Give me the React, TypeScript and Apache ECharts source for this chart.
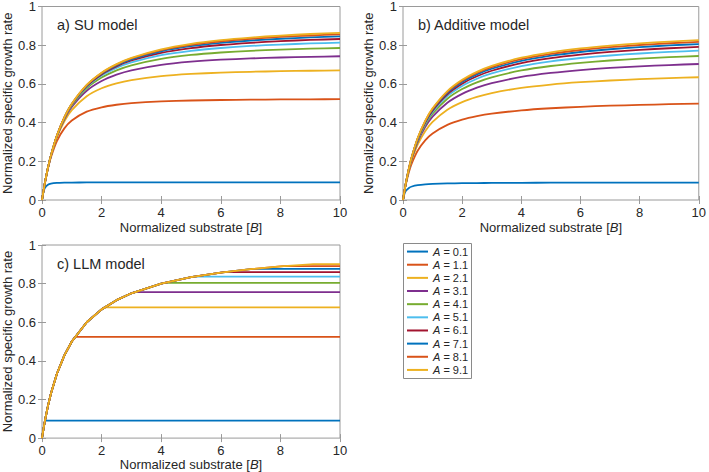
import React, { useEffect, useRef } from "react";
import * as echarts from "echarts";

// Substrate values (x) shared by the SU and Additive panels
const B_POINTS = [0, 0.05, 0.1, 0.2, 0.3, 0.5, 0.75, 1, 1.5, 2, 2.5, 3, 4, 5, 6, 7, 8, 9, 10];

const A_VALUES = [0.1, 1.1, 2.1, 3.1, 4.1, 5.1, 6.1, 7.1, 8.1, 9.1];
const SERIES_NAMES = ["A = 0.1", "A = 1.1", "A = 2.1", "A = 3.1", "A = 4.1", "A = 5.1", "A = 6.1", "A = 7.1", "A = 8.1", "A = 9.1"];

// a) SU model
const SU_A01 = [0, 0.041, 0.0625, 0.0789, 0.0845, 0.0882, 0.0896, 0.0902, 0.0906, 0.0907, 0.0908, 0.0908, 0.0909, 0.0909, 0.0909, 0.0909, 0.0909, 0.0909, 0.0909];
const SU_A11 = [0, 0.0475, 0.0903, 0.1629, 0.2209, 0.3045, 0.3701, 0.411, 0.4564, 0.4792, 0.4923, 0.5005, 0.5094, 0.5141, 0.5168, 0.5185, 0.5197, 0.5205, 0.5211];
const SU_A21 = [0, 0.0476, 0.0907, 0.1655, 0.2276, 0.3235, 0.4067, 0.4643, 0.5362, 0.5773, 0.6029, 0.6197, 0.6402, 0.6514, 0.6582, 0.6626, 0.6656, 0.6679, 0.6695];
const SU_A31 = [0, 0.0476, 0.0908, 0.1661, 0.2293, 0.3284, 0.4173, 0.481, 0.5643, 0.6146, 0.6476, 0.6702, 0.6983, 0.7146, 0.725, 0.7315, 0.7364, 0.74, 0.7428];
const SU_A41 = [0, 0.0476, 0.0909, 0.1664, 0.2299, 0.3304, 0.4218, 0.4883, 0.5773, 0.6329, 0.6701, 0.6963, 0.7297, 0.7496, 0.7622, 0.771, 0.7774, 0.782, 0.7855];
const SU_A51 = [0, 0.0476, 0.0909, 0.1665, 0.2302, 0.3314, 0.4241, 0.4921, 0.5843, 0.643, 0.6829, 0.7113, 0.7484, 0.771, 0.7856, 0.796, 0.8034, 0.809, 0.8133];
const SU_A61 = [0, 0.0476, 0.0909, 0.1665, 0.2304, 0.332, 0.4253, 0.4943, 0.5885, 0.6492, 0.6908, 0.7209, 0.7604, 0.7849, 0.8011, 0.8124, 0.8209, 0.8272, 0.832];
const SU_A71 = [0, 0.0476, 0.0909, 0.1666, 0.2305, 0.3323, 0.4261, 0.4957, 0.5914, 0.6532, 0.696, 0.7273, 0.7687, 0.7947, 0.8124, 0.8244, 0.8333, 0.8403, 0.8459];
const SU_A81 = [0, 0.0476, 0.0909, 0.1666, 0.2305, 0.3326, 0.4266, 0.4966, 0.5932, 0.6562, 0.6999, 0.7316, 0.7748, 0.8021, 0.8204, 0.8333, 0.8432, 0.8501, 0.8562];
const SU_A91 = [0, 0.0476, 0.0909, 0.1666, 0.2306, 0.3327, 0.427, 0.4973, 0.5944, 0.6579, 0.7022, 0.735, 0.7788, 0.8071, 0.826, 0.8396, 0.8499, 0.8578, 0.8638];

// b) Additive model
const AD_A01 = [0, 0.0323, 0.0476, 0.0625, 0.0698, 0.0769, 0.0811, 0.0833, 0.0857, 0.087, 0.0877, 0.0882, 0.0889, 0.0893, 0.0896, 0.0897, 0.0899, 0.09, 0.0901];
const AD_A11 = [0, 0.0456, 0.084, 0.1447, 0.1908, 0.2558, 0.3084, 0.3438, 0.3882, 0.4151, 0.4331, 0.446, 0.4632, 0.4741, 0.4817, 0.4873, 0.4916, 0.495, 0.4977];
const AD_A21 = [0, 0.0466, 0.0871, 0.1544, 0.2079, 0.2877, 0.3559, 0.4038, 0.4667, 0.506, 0.533, 0.5526, 0.5793, 0.5966, 0.6087, 0.6176, 0.6245, 0.63, 0.6344];
const AD_A31 = [0, 0.0469, 0.0883, 0.1582, 0.2148, 0.301, 0.3765, 0.4305, 0.5027, 0.5486, 0.5805, 0.6039, 0.6358, 0.6566, 0.6716, 0.6823, 0.6907, 0.6975, 0.7029];
const AD_A41 = [0, 0.0471, 0.0889, 0.1602, 0.2185, 0.3083, 0.388, 0.4456, 0.5233, 0.5734, 0.6083, 0.6341, 0.6694, 0.6925, 0.7088, 0.721, 0.7305, 0.738, 0.7441];
const AD_A51 = [0, 0.0472, 0.0893, 0.1614, 0.2208, 0.3129, 0.3954, 0.4554, 0.5368, 0.5896, 0.6266, 0.654, 0.6916, 0.7163, 0.7338, 0.7468, 0.757, 0.7651, 0.7716];
const AD_A61 = [0, 0.0473, 0.0896, 0.1622, 0.2224, 0.3161, 0.4005, 0.4621, 0.5462, 0.601, 0.6394, 0.668, 0.7072, 0.7332, 0.7515, 0.7652, 0.7759, 0.7843, 0.7912];
const AD_A71 = [0, 0.0473, 0.0898, 0.1628, 0.2235, 0.3184, 0.4042, 0.4671, 0.5533, 0.6094, 0.649, 0.6784, 0.7189, 0.7457, 0.7649, 0.779, 0.79, 0.7988, 0.806];
const AD_A81 = [0, 0.0473, 0.0899, 0.1633, 0.2244, 0.3202, 0.407, 0.471, 0.5587, 0.6161, 0.6566, 0.6865, 0.7281, 0.7556, 0.7752, 0.7897, 0.801, 0.81, 0.8174];
const AD_A91 = [0, 0.0474, 0.09, 0.1637, 0.2251, 0.3215, 0.4093, 0.4739, 0.5628, 0.6211, 0.6623, 0.6929, 0.7353, 0.7634, 0.7832, 0.7981, 0.8097, 0.819, 0.8265];

// c) LLM model: shared rising curve and the plateau each A caps at
const LLM_CURVE = [0, 0.0476, 0.0909, 0.1667, 0.2308, 0.3333, 0.4286, 0.5, 0.6, 0.6667, 0.7143, 0.75, 0.8, 0.8333, 0.8571, 0.875, 0.8889, 0.9, 0.9091];
const LLM_PLATEAU = [0.0909, 0.5238, 0.6774, 0.7561, 0.8039, 0.8361, 0.8592, 0.8765, 0.8901, 0.901];

const X_TICKS = [0, 2, 4, 6, 8, 10];
const Y_TICKS = [0, 0.2, 0.4, 0.6, 0.8, 1];

const COLORS = ["#0072BD", "#D95319", "#EDB120", "#7E2F8E", "#77AC30", "#4DBEEE", "#A2142F", "#0072BD", "#D95319", "#EDB120"];

const SU_SERIES = [SU_A01, SU_A11, SU_A21, SU_A31, SU_A41, SU_A51, SU_A61, SU_A71, SU_A81, SU_A91];
const AD_SERIES = [AD_A01, AD_A11, AD_A21, AD_A31, AD_A41, AD_A51, AD_A61, AD_A71, AD_A81, AD_A91];

const FONT = "'Liberation Sans', Arial, Helvetica, sans-serif";
const AXIS_GRAY = "#9a9a9a";
const TEXT = "#262626";

export default function App() {
  const ref = useRef<HTMLDivElement>(null);

  useEffect(() => {
    if (!ref.current) return;
    const chart = echarts.init(ref.current, null, { renderer: "svg" });

    const grids = [
      { left: 42, top: 5, width: 298, height: 195 },
      { left: 403, top: 5, width: 299, height: 195 },
      { left: 42, top: 245, width: 298, height: 194 },
    ];

    const xAxes: any[] = [];
    const yAxes: any[] = [];
    grids.forEach((g, gi) => {
      const tick = { show: true, inside: true, length: 4, lineStyle: { color: AXIS_GRAY, width: 1 } };
      xAxes.push({
        type: "value",
        gridIndex: gi,
        min: X_TICKS[0],
        max: X_TICKS[X_TICKS.length - 1],
        interval: 2,
        position: "bottom",
        axisLine: { show: false },
        axisTick: tick,
        splitLine: { show: false },
        axisLabel: { color: TEXT, fontSize: 13, fontFamily: FONT, margin: 6 },
        name: "Normalized substrate [{i|B}]",
        nameLocation: "middle",
        nameGap: gi === 2 ? 19 : 21,
        nameTextStyle: {
          color: TEXT,
          fontSize: 13,
          fontFamily: FONT,
          rich: { i: { fontStyle: "italic", fontSize: 13, fontFamily: FONT, color: TEXT } },
        },
      });
      xAxes.push({
        type: "value",
        gridIndex: gi,
        min: X_TICKS[0],
        max: X_TICKS[X_TICKS.length - 1],
        interval: 2,
        position: "top",
        axisLine: { show: false },
        axisTick: tick,
        splitLine: { show: false },
        axisLabel: { show: false },
      });
      yAxes.push({
        type: "value",
        gridIndex: gi,
        min: Y_TICKS[0],
        max: Y_TICKS[Y_TICKS.length - 1],
        interval: 0.2,
        position: "left",
        axisLine: { show: false },
        axisTick: tick,
        splitLine: { show: false },
        axisLabel: { color: TEXT, fontSize: 13, fontFamily: FONT, margin: 6 },
        name: "Normalized specific growth rate",
        nameLocation: "middle",
        nameGap: 27,
        nameTextStyle: { color: TEXT, fontSize: 13, fontFamily: FONT },
      });
      yAxes.push({
        type: "value",
        gridIndex: gi,
        min: Y_TICKS[0],
        max: Y_TICKS[Y_TICKS.length - 1],
        interval: 0.2,
        position: "right",
        axisLine: { show: false },
        axisTick: tick,
        splitLine: { show: false },
        axisLabel: { show: false },
      });
    });

    const series: any[] = [];
    const lineBase = (gi: number, i: number) => ({
      type: "line",
      name: SERIES_NAMES[i],
      xAxisIndex: gi * 2,
      yAxisIndex: gi * 2,
      symbol: "none",
      showSymbol: false,
      lineStyle: { color: COLORS[i], width: 1.8, join: "round" },
      itemStyle: { color: COLORS[i] },
      emphasis: { disabled: true },
    });

    SU_SERIES.forEach((vals, i) => {
      series.push({ ...lineBase(0, i), smooth: 0.2, data: B_POINTS.map((b, k) => [b, vals[k]]) });
    });
    AD_SERIES.forEach((vals, i) => {
      series.push({ ...lineBase(1, i), smooth: 0.2, data: B_POINTS.map((b, k) => [b, vals[k]]) });
    });
    A_VALUES.forEach((a, i) => {
      const pts: number[][] = [];
      B_POINTS.forEach((b, k) => {
        if (b < a) pts.push([b, LLM_CURVE[k]]);
      });
      pts.push([a, LLM_PLATEAU[i]]);
      pts.push([X_TICKS[X_TICKS.length - 1], LLM_PLATEAU[i]]);
      series.push({ ...lineBase(2, i), smooth: false, data: pts });
    });

    const titleStyle = (text: string, x: number, y: number) => ({
      type: "text",
      x,
      y,
      style: {
        text,
        fill: TEXT,
        fontSize: 14.5,
        fontFamily: FONT,
        verticalAlign: "middle",
        align: "left",
      },
      z: 100,
    });

    chart.setOption({
      animation: false,
      textStyle: { fontFamily: FONT },
      grid: grids.map((g) => ({ ...g, show: true, borderColor: AXIS_GRAY, borderWidth: 1, backgroundColor: "transparent", containLabel: false })),
      xAxis: xAxes,
      yAxis: yAxes,
      legend: {
        data: SERIES_NAMES.map((n) => ({ name: n, icon: "rect" })),
        orient: "vertical",
        left: 403,
        top: 244,
        itemWidth: 21,
        itemHeight: 2,
        itemGap: 0,
        padding: [1, 3, 1, 4],
        borderWidth: 0,
        selectedMode: false,
        formatter: (name: string) => "{i|A}" + name.slice(1),
        textStyle: {
          color: TEXT,
          fontSize: 11,
          lineHeight: 13.15,
          fontFamily: FONT,
          rich: { i: { fontStyle: "italic", fontSize: 11, lineHeight: 13.15, fontFamily: FONT, color: TEXT } },
        },
      },
      graphic: [
        titleStyle("a) SU model", 57, 25),
        titleStyle("b) Additive model", 418, 25),
        titleStyle("c) LLM model", 57, 264),
        {
          type: "rect",
          shape: { x: 403.5, y: 243.5, width: 68, height: 135 },
          style: { fill: "none", stroke: "#8a8a8a", lineWidth: 1 },
          silent: true,
        },
      ],
      series,
    });

    return () => chart.dispose();
  }, []);

  return (
    <div
      ref={ref}
      style={{ position: "absolute", left: 0, top: 0, width: 709, height: 472, background: "#fff" }}
    />
  );
}
